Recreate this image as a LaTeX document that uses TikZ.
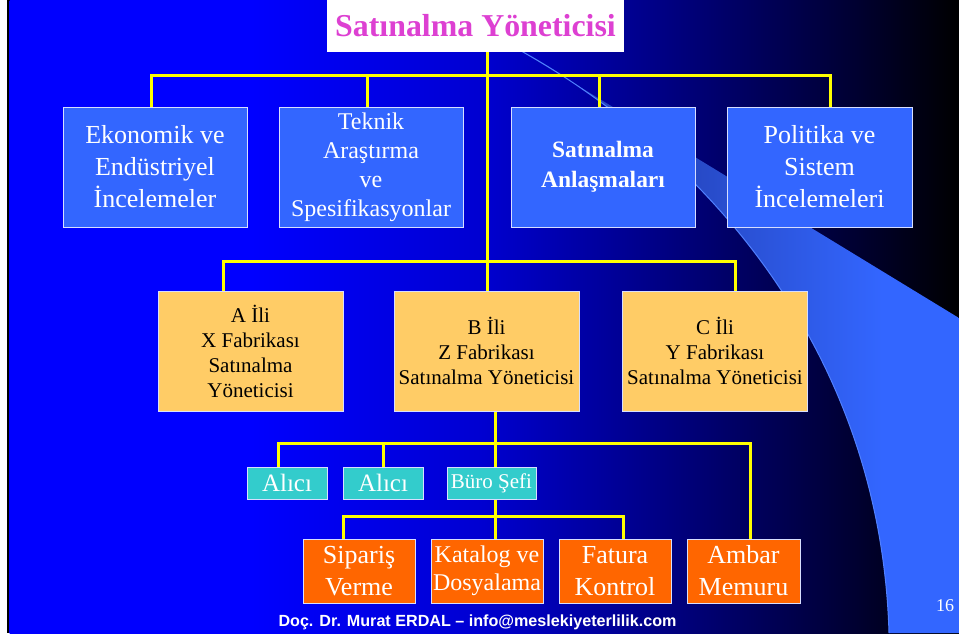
\documentclass[tikz,border=0pt]{standalone}
\usepackage{fontspec}
\setmainfont{Liberation Serif}
\newfontfamily\footsans{Liberation Sans}
\usetikzlibrary{calc}

\definecolor{lvlone}{RGB}{51,102,255}
\definecolor{lvltwo}{RGB}{255,204,102}
\definecolor{clerk}{RGB}{51,204,204}
\definecolor{task}{RGB}{255,102,0}
\definecolor{titlemag}{RGB}{221,64,210}
\definecolor{boxedge}{RGB}{215,222,255}
\definecolor{wire}{RGB}{255,255,0}
\definecolor{swooshedge}{RGB}{80,128,255}

\pgfdeclarelayer{back}
\pgfdeclarelayer{wires}
\pgfsetlayers{back,wires,main}

% slide background: blue on the left fading to black on the right
\pgfdeclarehorizontalshading{slidebg}{100bp}{rgb(0bp)=(0,0,1); rgb(25bp)=(0,0,1); rgb(37.7bp)=(0,0,1); rgb(49.8bp)=(0,0,0.82); rgb(61.4bp)=(0,0,0.45); rgb(69.3bp)=(0,0,0.2); rgb(75bp)=(0,0,0); rgb(100bp)=(0,0,0)}
% decorative swoosh band
\pgfdeclarehorizontalshading{swoosh}{100bp}{rgb(0bp)=(0.15,0.28,0.76); rgb(46bp)=(0.15,0.28,0.76); rgb(67bp)=(0.2,0.4,1); rgb(100bp)=(0.2,0.4,1)}

\tikzset{
  box/.style={inner sep=0pt, outer sep=0pt, align=center, draw=boxedge, line width=0.6pt},
  upper/.style={box, fill=lvlone, text=white, minimum width=138pt, minimum height=90pt},
  plant/.style={box, fill=lvltwo, text=black, minimum width=138.75pt, minimum height=90pt,
    font=\fontsize{15.75}{18.75}\selectfont},
  clerkbox/.style={box, fill=clerk, text=white, minimum height=24pt},
  taskbox/.style={box, fill=task, text=white, minimum width=84pt, minimum height=48pt},
  link/.style={draw=wire, line width=2.25pt},
}

\begin{document}
\begin{tikzpicture}[x=0.75pt, y=-0.75pt]
\useasboundingbox (0,0) rectangle (959,633);

\begin{pgfonlayer}{back}
  \fill[white] (0,0) rectangle (959,633);
  \fill[black] (6.5,0) rectangle (9.5,633);
  \shade[shading=slidebg] (9.5,0) rectangle (959,633);
  \shade[shading=swoosh] (480,26) -- (959,318) -- (959,633) -- (889,633)
    .. controls (880,330) and (680,140) .. (523,52) -- cycle;
  \draw[swooshedge, line width=0.75pt] (889,633)
    .. controls (880,330) and (680,140) .. (523,52) -- (480,26);
\end{pgfonlayer}

% head of the department
\node[fill=white, inner sep=0pt, minimum width=222.75pt, minimum height=39pt, text=titlemag,
  font=\bfseries\fontsize{23.9}{28}\selectfont] (title) at (475.5,26) {Satınalma Yöneticisi};

% staff units
\node[upper, font=\fontsize{19.5}{24}\selectfont] (eko) at (155,167) {Ekonomik ve\\Endüstriyel\\İncelemeler};
\node[upper, font=\fontsize{18}{21.75}\selectfont] (tek) at (371,167) {Teknik\\Araştırma\\ve\\Spesifikasyonlar};
\node[upper, font=\bfseries\fontsize{17.6}{22.5}\selectfont] (san) at (603,167) {Satınalma\\Anlaşmaları};
\node[upper, minimum width=138.75pt, font=\fontsize{19.5}{24}\selectfont] (pol) at (819.5,167) {Politika ve\\Sistem\\İncelemeleri};

% plant purchasing managers
\node[plant] (pa) at (250.5,351) {A İli\\X Fabrikası\\Satınalma\\Yöneticisi};
\node[plant] (pb) at (486.5,351) {B İli\\Z Fabrikası\\Satınalma Yöneticisi};
\node[plant] (pc) at (715,351) {C İli\\Y Fabrikası\\Satınalma Yöneticisi};

% buyers and office chief
\node[clerkbox, minimum width=60pt, font=\fontsize{18.75}{22}\selectfont] (al1) at (287,483) {Alıcı};
\node[clerkbox, minimum width=60pt, font=\fontsize{18.75}{22}\selectfont] (al2) at (383,483) {Alıcı};
\node[clerkbox, minimum width=66.75pt, font=\fontsize{15.75}{18}\selectfont] (buro) at (491.5,483) {Büro Şefi};

% clerical tasks
\node[taskbox, font=\fontsize{19.5}{24}\selectfont] (sip) at (359,571) {Sipariş\\Verme};
\node[taskbox, font=\fontsize{18}{21}\selectfont] (kat) at (487,571) {Katalog ve\\Dosyalama};
\node[taskbox, font=\fontsize{19.5}{24}\selectfont] (fat) at (615,571) {Fatura\\Kontrol};
\node[taskbox, minimum width=84.75pt, font=\fontsize{19.5}{24}\selectfont] (amb) at (743.5,571) {Ambar\\Memuru};

% footer and page number
\node[text=white, inner sep=0pt, font=\footsans\bfseries\fontsize{12.1}{14}\selectfont] (foot) at (477.5,622)
  {Doç. Dr. Murat ERDAL – info@meslekiyeterlilik.com};
\node[text=white, inner sep=0pt, font=\fontsize{13.5}{16}\selectfont] (pg) at (945,606) {16};

% junctions of the yellow tree
\coordinate (j1) at (487,75);
\coordinate (j2) at (487,261);
\coordinate (j3) at (495,443);
\coordinate (j4) at (495,516);

\begin{pgfonlayer}{wires}
  \draw[link] (title.south -| j1) -- (pb.north -| j1);
  \draw[link] ([xshift=-3pt]eko.north) |- (j1);
  \draw[link] ([xshift=-3pt]tek.north) |- (j1);
  \draw[link] ([xshift=-3pt]san.north) |- (j1);
  \draw[link] ([xshift=8.6pt]pol.north) |- (j1);
  \draw[link] ([xshift=-20.6pt]pa.north) |- (j2);
  \draw[link] ([xshift=15pt]pc.north) |- (j2);
  \draw[link] (pb.south -| j3) -- (buro.north -| j3);
  \draw[link] ([xshift=-6.75pt]al1.north) |- (j3);
  \draw[link] (al2.north) |- (j3);
  \draw[link] ([xshift=4.9pt]amb.north) |- (j3);
  \draw[link] (buro.south -| j4) -- (kat.north -| j4);
  \draw[link] ([xshift=-12pt]sip.north) |- (j4);
  \draw[link] ([xshift=6pt]fat.north) |- (j4);
\end{pgfonlayer}
\end{tikzpicture}
\end{document}
